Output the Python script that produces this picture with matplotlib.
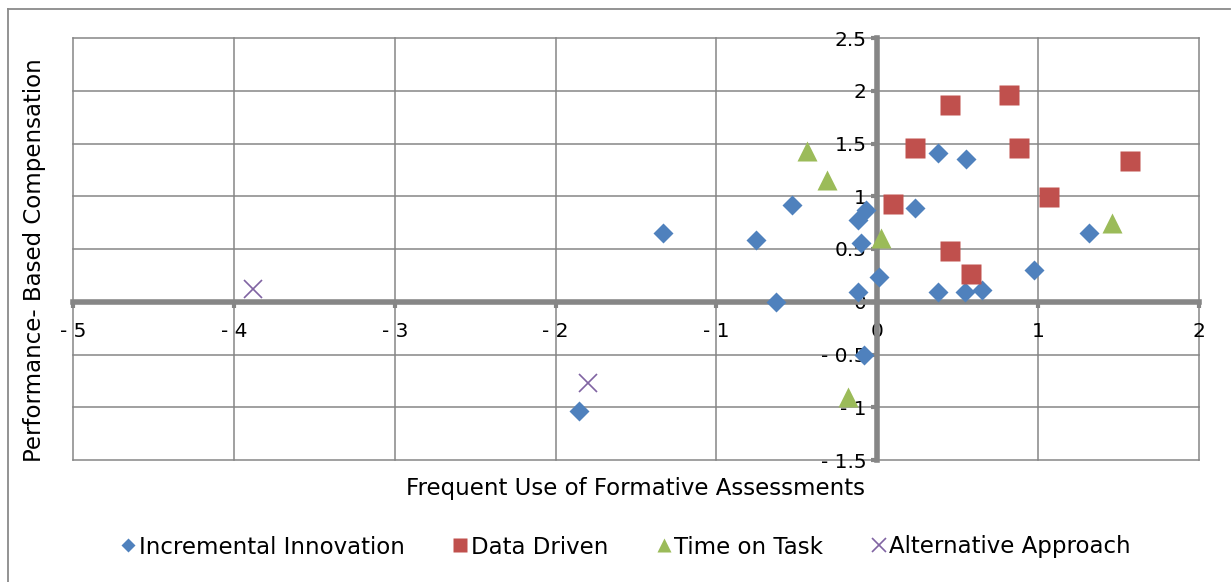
import numpy as np
from matplotlib import pyplot as plt
from matplotlib import ticker
from matplotlib.lines import Line2D

plt.close('all')

# scores per school, grouped by cluster
inc_x = [-1.33, -0.755, -0.53, -0.63, -0.10, -0.12, -0.07, 0.01, -0.12, -0.085,
         -1.855, 0.378, 0.554, 0.237, 1.315, 0.975, 0.378, 0.544, 0.654]
inc_y = [0.65, 0.59, 0.92, 0.0, 0.555, 0.775, 0.87, 0.23, 0.09, -0.50,
         -1.035, 1.41, 1.35, 0.89, 0.655, 0.30, 0.095, 0.095, 0.11]

data_x = [0.45, 0.817, 0.233, 0.884, 1.574, 1.068, 0.098, 0.455, 0.581]
data_y = [1.865, 1.96, 1.455, 1.457, 1.33, 0.99, 0.927, 0.485, 0.263]

time_x = [-0.438, -0.312, 0.026, -0.179, 1.457]
time_y = [1.427, 1.154, 0.60, -0.90, 0.75]

alt_x = [-3.881, -1.80]
alt_y = [0.12, -0.767]

xticks = [-5, -4, -3, -2, -1, 0, 1, 2]
xlabels = ['- 5', '- 4', '- 3', '- 2', '- 1', '0', '1', '2']
yticks = [-1.5, -1, -0.5, 0, 0.5, 1, 1.5, 2, 2.5]
ylabels = ['- 1.5', '- 1', '- 0.5', '0', '0.5', '1', '1.5', '2', '2.5']

blue = '#4F81BD'
red = '#C0504D'
green = '#9BBB59'
purple = '#8064A2'
gray = '#868686'

plt.rcParams['font.family'] = 'DejaVu Sans'

fig = plt.figure(figsize=(12.31, 5.82), dpi=100)
ax = fig.add_axes([73/1231, 122/582, 1126/1231, 422/582])

ax.plot(inc_x, inc_y, 'D', color=blue, ms=10, mec='none', zorder=5)
ax.plot(data_x, data_y, 's', color=red, ms=14, mec='none', zorder=5)
ax.plot(time_x, time_y, '^', color=green, ms=14, mec='none', zorder=5)
ax.plot(alt_x, alt_y, 'x', color=purple, ms=13, mew=1.2, zorder=5)

ax.set_xlim(-5, 2)
ax.set_ylim(-1.5, 2.5)
ax.set_xticks(xticks)
ax.set_xticklabels(xlabels)
ax.set_yticks(yticks)
ax.set_yticklabels(ylabels)

# axes cross at the origin
for side in ['top', 'right']:
    ax.spines[side].set_visible(False)
for side in ['left', 'bottom']:
    ax.spines[side].set_position('zero')
    ax.spines[side].set_color(gray)
    ax.spines[side].set_linewidth(4)
    ax.spines[side].set_zorder(3)

ax.tick_params(axis='both', direction='out', length=4.5, width=3, color=gray,
               labelsize=14.5, labelcolor='black')
ax.tick_params(axis='x', pad=10)
ax.tick_params(axis='y', pad=3)

ax.grid(True, color=gray, linewidth=1.1, zorder=0)
ax.set_axisbelow(True)
for gl in ax.get_xgridlines() + ax.get_ygridlines():
    gl.set_clip_on(False)

ax.set_xlabel('Frequent Use of Formative Assessments', fontsize=16.5, labelpad=0)
ax.xaxis.set_label_coords(0.5, -0.04)
ax.set_ylabel('Performance- Based Compensation', fontsize=16.5)
ax.yaxis.set_label_coords(-0.024, 0.474)

# chart border (left and top edges show)
fig.add_artist(Line2D([8/1231, 8/1231], [0, 1 - 9/582], color='#8a8a8a', lw=1.3))
fig.add_artist(Line2D([8/1231, 1230/1231], [1 - 9/582, 1 - 9/582], color='#8a8a8a', lw=1.3))

handles = [
    Line2D([], [], ls='none', marker='D', color=blue, ms=7, mec='none'),
    Line2D([], [], ls='none', marker='s', color=red, ms=10, mec='none'),
    Line2D([], [], ls='none', marker='^', color=green, ms=10, mec='none'),
    Line2D([], [], ls='none', marker='x', color=purple, ms=10, mew=1.2),
]
names = ['Incremental Innovation', 'Data Driven', 'Time on Task', 'Alternative Approach']
fig.legend(handles, names, loc='center', bbox_to_anchor=(626/1231, 1 - 547/582),
           ncol=4, frameon=False, fontsize=16.5, handlelength=0.6,
           handletextpad=0.15, columnspacing=2.13)

fig.savefig('out.png', dpi=100)
